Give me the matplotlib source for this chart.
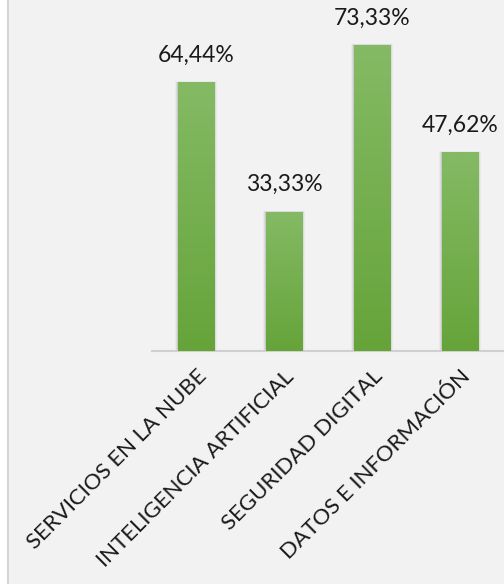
import matplotlib.pyplot as plt
import matplotlib.patches as mpatches
from matplotlib.colors import LinearSegmentedColormap
import numpy as np

# data
categories = [
    "SERVICIOS EN LA NUBE",
    "INTELIGENCIA ARTIFICIAL",
    "SEGURIDAD DIGITAL",
    "DATOS E INFORMACIÓN",
]
values = [64.44, 33.33, 73.33, 47.62]
value_labels = ["64,44%", "33,33%", "73,33%", "47,62%"]

plt.rcParams["font.family"] = ["Lato", "DejaVu Sans"]

bg = "#F2F2F2"
fig = plt.figure(figsize=(5.04, 5.84), dpi=100)
fig.patch.set_facecolor("white")

# chart area background with left border line
fig.add_artist(mpatches.Rectangle((7 / 504, 0), 1, 1, transform=fig.transFigure,
                                  facecolor=bg, edgecolor="none", zorder=-2))
fig.add_artist(plt.Line2D([7.5 / 504, 7.5 / 504], [0, 1], transform=fig.transFigure,
                          color="#D0D0D0", lw=1.2, zorder=-1))

ax = fig.add_axes([152 / 504, 1 - 351 / 584, 352 / 504, 351 / 584])
ax.set_facecolor("none")

x = np.arange(len(categories))
width = 0.41
ymax = 351 / 4.172

grad = LinearSegmentedColormap.from_list("g", ["#66A43A", "#84BA64"])
for xi, v, lab in zip(x, values, value_labels):
    # soft shadow
    for k, a in enumerate([0.09, 0.06, 0.03]):
        d = 0.012 * (k + 1)
        ax.add_patch(mpatches.Rectangle((xi - width / 2 - d, 0), width + d * 2, v + d * 6,
                                        facecolor="black", alpha=a, edgecolor="none", zorder=1))
    bar = ax.bar(xi, v, width=width, color="#74AF4F", zorder=2)[0]
    img = ax.imshow(np.linspace(0, 1, 100).reshape(-1, 1), cmap=grad, aspect="auto",
                    extent=[xi - width / 2, xi + width / 2, 0, v], origin="lower", zorder=3)
    img.set_clip_path(bar)
    ax.text(xi, v + 4.0, lab, ha="center", va="bottom",
            fontsize=16.5, color="#1A1A1A", zorder=4)

ax.set_xlim(-0.5, 3.5)
ax.set_ylim(0, ymax)

for s in ["top", "right", "left"]:
    ax.spines[s].set_visible(False)
ax.spines["bottom"].set_color("#D0D0D0")
ax.spines["bottom"].set_linewidth(1.5)
ax.set_yticks([])
ax.set_xticks(x)
ax.set_xticklabels(categories, rotation=45, ha="right", va="top",
                   rotation_mode="anchor", fontsize=16, color="#1A1A1A")
ax.tick_params(axis="x", length=0, pad=11)

fig.savefig("out.png", dpi=100, facecolor=fig.get_facecolor())
